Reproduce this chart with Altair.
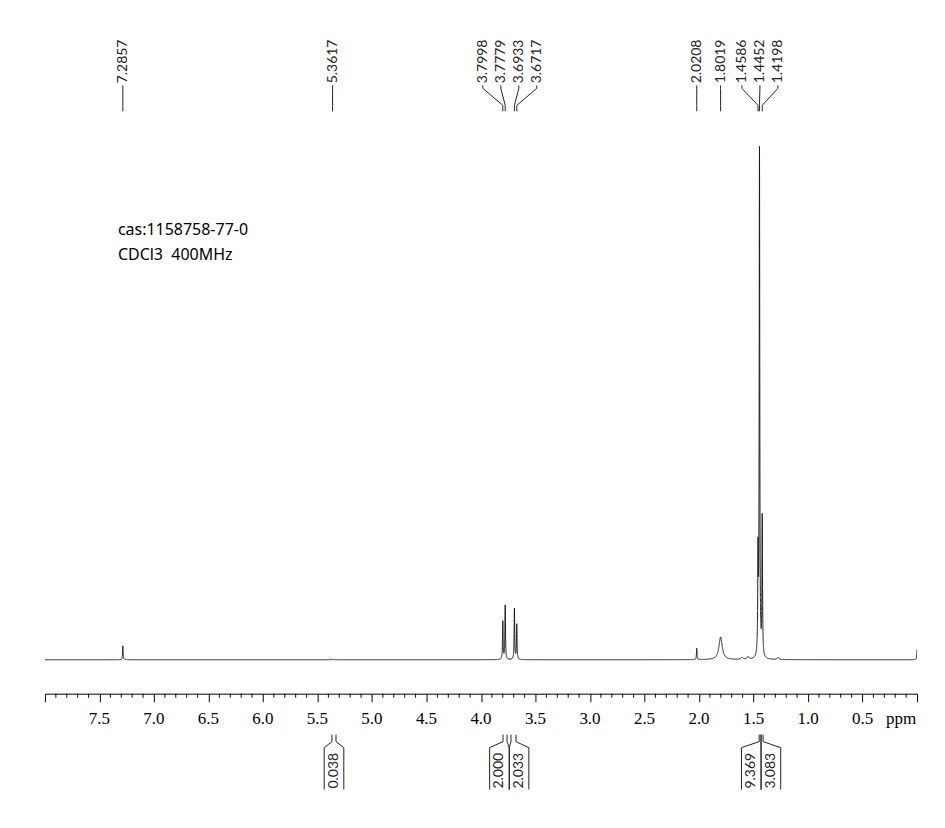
import altair as alt
import numpy as np
import pandas as pd

# ---- spectrum peak list (ppm, relative height, half width at half max in ppm)
peak_ppm = [7.2857, 5.3617, 3.7998, 3.7779, 3.6933, 3.6717, 2.0208, 1.8019,
            1.605, 1.55, 1.4586, 1.4452, 1.4198, 1.275, 0.0]
peak_height = [2.7, 0.15, 7.4, 10.5, 9.9, 6.8, 2.2, 4.4,
               0.4, 0.5, 19.0, 98.5, 27.0, 0.4, 2.0]
peak_hwhm = [0.003, 0.004, 0.003, 0.003, 0.003, 0.003, 0.003, 0.018,
             0.01, 0.01, 0.003, 0.003, 0.003, 0.01, 0.003]

# ---- peak labels (top)
label_text = ["7.2857", "5.3617", "3.7998", "3.7779", "3.6933", "3.6717",
              "2.0208", "1.8019", "1.4586", "1.4452", "1.4198"]
label_group = [0, 1, 2, 2, 2, 2, 3, 4, 5, 5, 5]

# ---- integrals (bottom)
integral_text = ["0.038", "2.000", "2.033", "9.369", "3.083"]
integral_left = [5.367, 3.798, 3.725, 1.448, 1.430]
integral_right = [5.330, 3.761, 3.679, 1.432, 1.412]
integral_group = [0, 1, 1, 2, 2]

major_ticks = [8.0, 7.5, 7.0, 6.5, 6.0, 5.5, 5.0, 4.5, 4.0, 3.5, 3.0, 2.5, 2.0, 1.5, 1.0, 0.5, 0.0]
tick_labels = ["7.5", "7.0", "6.5", "6.0", "5.5", "5.0", "4.5", "4.0", "3.5", "3.0",
               "2.5", "2.0", "1.5", "1.0", "0.5"]
info_lines = ["cas:1158758-77-0", "CDCl3\u00a0\u00a0400MHz"]

# ---- build the trace from the peak list (Lorentzian line shapes)
grid = [np.arange(0.0, 8.0001, 0.004)]
for p in peak_ppm:
    grid.append(np.linspace(p - 0.05, p + 0.05, 201))
x = np.unique(np.clip(np.concatenate(grid), 0.0, 8.0))
y = np.zeros_like(x)
for p, h, w in zip(peak_ppm, peak_height, peak_hwhm):
    y += h * w ** 2 / ((x - p) ** 2 + w ** 2)
spec = pd.DataFrame({"ppm": x, "intensity": y})

# ---- label layout
lab_sp = 0.165
lab = pd.DataFrame({"text": label_text, "peak": [float(t) for t in label_text], "g": label_group})
lab["lx"] = lab["peak"]
for g, sub in lab.groupby("g"):
    n = len(sub)
    c = sub["peak"].mean()
    if n > 1:
        lab.loc[sub.index, "lx"] = [c + ((n - 1) / 2 - i) * lab_sp for i in range(n)]

box_w = 0.18
integ = pd.DataFrame({"text": integral_text, "a": integral_left, "b": integral_right, "g": integral_group})
integ["mid"] = (integ["a"] + integ["b"]) / 2
for g, sub in integ.groupby("g"):
    n = len(sub)
    c = sub["mid"].mean()
    integ.loc[sub.index, "tc"] = [c + ((n - 1) / 2 - i) * box_w for i in range(n)]
integ["L"] = integ["tc"] + box_w / 2
integ["R"] = integ["tc"] - box_w / 2
edges = pd.concat([
    pd.DataFrame({"edge": integ["a"], "box": integ["L"]}),
    pd.DataFrame({"edge": integ["b"], "box": integ["R"]}),
], ignore_index=True)

minor = pd.DataFrame({"ppm": [round(v, 1) for v in np.arange(0.1, 8.0, 0.1)
                              if abs(round(v, 1) * 2 - round(round(v, 1) * 2)) > 1e-6]})
ticklab = pd.DataFrame({"v": [float(t) for t in tick_labels], "t": tick_labels})

xscale = alt.Scale(domain=[8, 0], nice=False, zero=False)
xaxis = alt.Axis(values=major_ticks, labels=False,
                 tickSize=8, tickColor="black", domainColor="black",
                 title=None, grid=False, domainWidth=1, tickWidth=1)

def X(field):
    return alt.X(field, type="quantitative", scale=xscale, axis=xaxis)

line = alt.Chart(spec).mark_line(color="#1a1a1a", strokeWidth=1, clip=True).encode(
    x=X("ppm"),
    y=alt.Y("intensity:Q", scale=alt.Scale(domain=[-6.6, 126.6], nice=False, zero=False), axis=None),
)

minor_ticks = alt.Chart(minor).mark_rule(color="black", strokeWidth=1).encode(
    x=X("ppm"), y=alt.value(686), y2=alt.value(690))

tick_text = alt.Chart(ticklab).mark_text(
    font="Liberation Serif", fontSize=17, baseline="top", align="center", color="black").encode(
    x=X("v"), y=alt.value(703), text="t:N")

ppm_text = alt.Chart(pd.DataFrame({"t": ["ppm"]})).mark_text(
    font="Liberation Serif", fontSize=17, baseline="top", align="center", color="black").encode(
    x=alt.value(857), y=alt.value(703), text="t:N")

lab_text = alt.Chart(lab).mark_text(font="Lato", fontSize=14, angle=270, align="left",
                                     baseline="middle", color="#222").encode(
    x=X("lx"), y=alt.value(75), text="text:N")
lab_r1 = alt.Chart(lab).mark_rule(color="#222", strokeWidth=1).encode(
    x=X("lx"), x2="lx:Q", y=alt.value(77), y2=alt.value(80))
lab_r2 = alt.Chart(lab).mark_rule(color="#222", strokeWidth=1).encode(
    x=X("lx"), x2="peak:Q", y=alt.value(80), y2=alt.value(97))
lab_r3 = alt.Chart(lab).mark_rule(color="#222", strokeWidth=1).encode(
    x=X("peak"), x2="peak:Q", y=alt.value(97), y2=alt.value(103))

int_r1 = alt.Chart(edges).mark_rule(color="#222", strokeWidth=1).encode(
    x=X("edge"), x2="edge:Q", y=alt.value(727), y2=alt.value(734))
int_r2 = alt.Chart(edges).mark_rule(color="#222", strokeWidth=1).encode(
    x=X("edge"), x2="box:Q", y=alt.value(734), y2=alt.value(740))
int_r3 = alt.Chart(edges).mark_rule(color="#222", strokeWidth=1).encode(
    x=X("box"), x2="box:Q", y=alt.value(740), y2=alt.value(782))
int_text = alt.Chart(integ).mark_text(font="Lato", fontSize=14, angle=270, align="left",
                                       baseline="middle", color="#222").encode(
    x=X("tc"), y=alt.value(781), text="text:N")

info = alt.Chart(pd.DataFrame({"t": info_lines, "yy": [0, 1]})).mark_text(
    font="Noto Sans", fontSize=16, align="left", baseline="middle", color="black").encode(
    x=alt.value(73), y=alt.Y("yy:Q", scale=alt.Scale(domain=[0, 1], range=[222, 247]), axis=None),
    text="t:N")

chart = alt.layer(line, minor_ticks, tick_text, ppm_text, lab_text, lab_r1, lab_r2, lab_r3,
                  int_r1, int_r2, int_r3, int_text, info).resolve_scale(y="independent").properties(
    width=873, height=686, autosize="none",
    padding={"left": 37, "top": 0, "right": 20, "bottom": 120},
    background="white",
).configure_view(stroke=None)

chart.save("out.html", embed_options={"renderer": "svg", "actions": False})
